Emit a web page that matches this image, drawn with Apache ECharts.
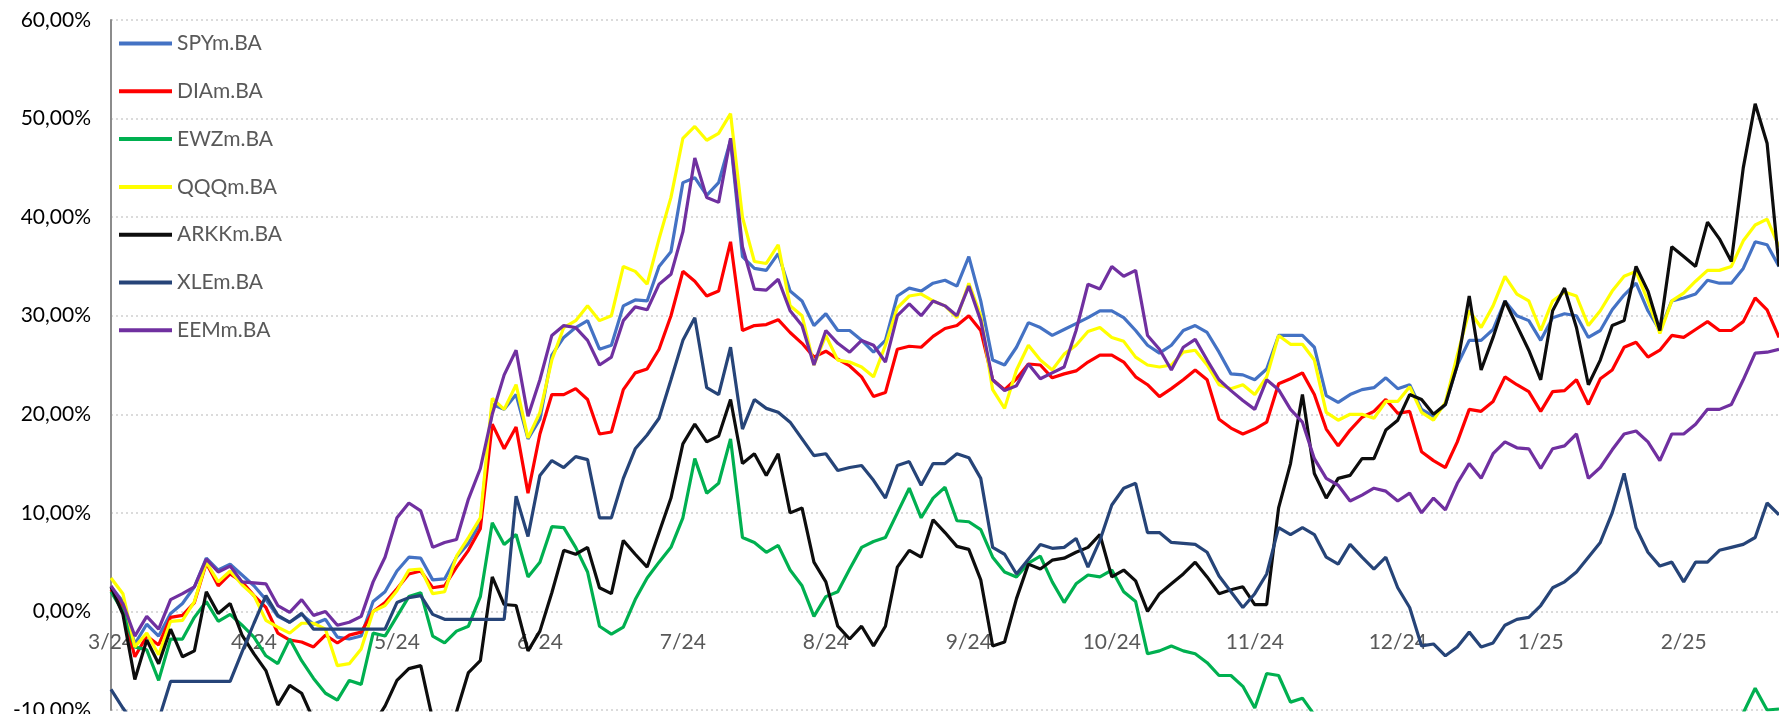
<!DOCTYPE html>
<html>
<head>
<meta charset="utf-8">
<script src="https://cdn.jsdelivr.net/npm/echarts@6/dist/echarts.min.js"></script>
<style>
  html, body { margin: 0; padding: 0; background: #fff; overflow: hidden; }
  #chart { width: 1779px; height: 714px; }
</style>
</head>
<body>
<div id="chart"></div>
<script>
// month labels, one per 12 points on the x axis
const tickLabels = ['3/24', '4/24', '5/24', '6/24', '7/24', '8/24', '9/24', '10/24', '11/24', '12/24', '1/25', '2/25'];
const POINTS_PER_MONTH = 12;

// cumulative return, % (one row per month)
const spy = [
  2.5, 1.0, -3.3, -1.3, -2.5, -0.2, 0.8, 2.5, 5.4, 4.2, 4.8, 3.7,
  2.6, 1.2, -0.5, -1.1, -0.3, -1.3, -0.8, -2.6, -2.8, -2.5, 1.0, 2.0,
  4.1, 5.5, 5.4, 3.2, 3.3, 5.5, 6.9, 9.0, 21.0, 20.5, 22.0, 17.5,
  19.5, 26.0, 27.8, 28.8, 29.5, 26.6, 27.0, 31.0, 31.6, 31.5, 35.0, 36.5,
  43.5, 44.0, 42.2, 43.5, 47.8, 36.0, 34.8, 34.6, 36.3, 32.5, 31.5, 29.0,
  30.2, 28.5, 28.5, 27.5, 26.3, 27.5, 32.0, 32.8, 32.5, 33.3, 33.6, 33.0,
  36.0, 31.5, 25.5, 25.0, 26.8, 29.3, 28.8, 28.0, 28.6, 29.2, 29.8, 30.5,
  30.5, 29.8, 28.5, 27.0, 26.2, 27.0, 28.5, 29.0, 28.3, 26.3, 24.1, 24.0,
  23.5, 24.6, 28.0, 28.0, 28.0, 26.8, 21.9, 21.2, 22.0, 22.5, 22.7, 23.7,
  22.6, 23.0, 20.5, 19.8, 21.0, 25.0, 27.5, 27.5, 28.6, 31.5, 30.0, 29.5,
  27.5, 29.8, 30.2, 30.0, 27.8, 28.5, 30.6, 32.1, 33.3, 30.5, 28.5, 31.5,
  31.8, 32.2, 33.6, 33.3, 33.3, 34.8, 37.5, 37.2, 35.0
];

const dia = [
  2.2, 0.3, -4.6, -2.5, -3.4, -0.6, -0.4, 0.9, 4.9, 2.6, 3.8, 3.0,
  1.6, 0.4, -2.2, -2.9, -3.1, -3.6, -2.4, -3.2, -2.4, -2.1, 0.0, 0.9,
  2.3, 3.8, 4.1, 2.4, 2.6, 4.5, 6.2, 8.4, 19.0, 16.5, 18.7, 12.0,
  18.0, 22.0, 22.0, 22.6, 21.5, 18.0, 18.2, 22.5, 24.2, 24.6, 26.6, 30.0,
  34.5, 33.5, 32.0, 32.5, 37.5, 28.5, 29.0, 29.1, 29.6, 28.3, 27.2, 25.8,
  26.4, 25.6, 24.9, 23.8, 21.8, 22.2, 26.6, 26.9, 26.8, 27.9, 28.7, 29.0,
  30.0, 28.5, 23.5, 22.5, 23.6, 25.1, 25.0, 23.7, 24.1, 24.4, 25.3, 26.0,
  26.0, 25.3, 23.8, 23.0, 21.8, 22.6, 23.5, 24.5, 23.5, 19.5, 18.6, 18.0,
  18.5, 19.2, 23.1, 23.6, 24.2, 22.0, 18.5, 16.8, 18.4, 19.7, 20.3, 21.5,
  20.1, 20.3, 16.2, 15.3, 14.6, 17.2, 20.5, 20.3, 21.3, 23.8, 23.0, 22.3,
  20.3, 22.3, 22.4, 23.5, 21.0, 23.6, 24.5, 26.8, 27.3, 25.8, 26.5, 28.0,
  27.8, 28.6, 29.4, 28.5, 28.5, 29.4, 31.8, 30.6, 27.8
];

const ewz = [
  2.0, 0.0, -3.6, -3.9, -7.0, -2.8, -2.8, -0.6, 1.0, -1.0, -0.3, -1.4,
  -2.6, -4.5, -5.3, -2.8, -5.0, -6.8, -8.3, -9.0, -7.0, -7.4, -2.2, -2.5,
  -0.5, 1.5, 1.9, -2.5, -3.2, -2.0, -1.5, 1.5, 9.0, 6.8, 7.8, 3.5,
  5.0, 8.6, 8.5, 6.5, 4.0, -1.5, -2.3, -1.6, 1.2, 3.4, 5.0, 6.5,
  9.5, 15.5, 12.0, 13.0, 17.5, 7.5, 7.0, 6.0, 6.7, 4.2, 2.6, -0.5,
  1.5, 2.0, 4.3, 6.5, 7.1, 7.5, 10.0, 12.5, 9.5, 11.5, 12.6, 9.2,
  9.1, 8.3, 5.5, 4.0, 3.5, 4.9, 5.6, 3.0, 0.9, 2.8, 3.7, 3.5,
  4.2, 2.0, 1.0, -4.3, -4.0, -3.5, -4.0, -4.3, -5.2, -6.5, -6.5, -7.6,
  -9.8, -6.3, -6.5, -9.2, -8.8, -10.5, -11.5, -12.0, -12.5, -12.0, -13.0, -13.5,
  -14.0, -13.0, -14.5, -15.0, -14.0, -15.5, -16.0, -15.0, -14.5, -15.5, -14.0, -13.5,
  -14.5, -15.0, -14.0, -13.5, -14.0, -13.0, -13.5, -12.5, -13.0, -12.0, -12.5, -11.5,
  -12.0, -11.5, -12.0, -11.0, -11.0, -10.3, -7.8, -10.0, -9.9
];

const qqq = [
  3.4, 1.8, -3.6, -2.2, -4.4, -1.0, -0.9, 1.0, 5.0, 3.0, 4.1, 2.7,
  1.6, -0.9, -1.6, -2.2, -1.2, -1.2, -1.8, -5.5, -5.3, -3.8, 0.0, 0.6,
  2.1, 4.2, 4.3, 1.8, 2.0, 5.6, 7.5, 9.5, 21.6, 20.5, 23.0, 17.6,
  20.2, 25.5, 28.8, 29.5, 31.0, 29.5, 30.0, 35.0, 34.5, 33.2, 37.8, 42.0,
  48.0, 49.2, 47.8, 48.5, 50.5, 40.0, 35.5, 35.3, 37.2, 31.0, 30.0, 25.0,
  28.0, 25.5, 25.3, 24.8, 23.8, 27.0, 30.8, 32.0, 32.2, 31.5, 31.0, 29.8,
  33.3, 30.0, 22.5, 20.6, 24.5, 27.0, 25.5, 24.5, 26.1, 27.0, 28.4, 28.8,
  27.8, 27.4, 25.8, 25.0, 24.8, 25.0, 26.3, 26.5, 25.0, 23.0, 22.6, 23.0,
  22.0, 23.8, 28.0, 27.1, 27.1, 25.5, 20.2, 19.4, 20.0, 20.0, 19.6, 21.3,
  21.3, 22.8, 20.2, 19.4, 21.2, 26.0, 30.5, 28.8, 31.0, 34.0, 32.2, 31.5,
  28.5, 31.5, 32.4, 32.0, 29.0, 30.5, 32.5, 34.0, 34.5, 31.5, 28.2, 31.5,
  32.3, 33.5, 34.6, 34.6, 35.0, 37.6, 39.2, 39.8, 37.0
];

const arkk = [
  2.5, -0.3, -6.9, -2.9, -5.3, -1.8, -4.6, -4.0, 2.0, -0.2, 0.8, -2.4,
  -4.3, -6.0, -9.5, -7.5, -8.3, -11.0, -13.0, -14.0, -13.5, -12.5, -11.5, -9.6,
  -7.0, -5.8, -5.5, -11.0, -13.0, -10.2, -6.2, -5.0, 3.5, 0.7, 0.6, -4.0,
  -2.0, 1.9, 6.2, 5.8, 6.5, 2.4, 1.8, 7.2, 5.8, 4.5, 8.0, 11.5,
  17.0, 19.0, 17.2, 17.8, 21.5, 15.0, 16.0, 13.8, 16.0, 10.0, 10.5, 5.0,
  3.0, -1.5, -2.8, -1.5, -3.5, -1.5, 4.5, 6.2, 5.5, 9.3, 8.0, 6.6,
  6.3, 3.2, -3.5, -3.1, 1.3, 4.8, 4.3, 5.2, 5.4, 6.0, 6.5, 7.8,
  3.5, 4.2, 3.1, 0.0, 1.8, 2.8, 3.8, 5.0, 3.5, 1.8, 2.2, 2.5,
  0.7, 0.7, 10.5, 15.0, 22.0, 14.0, 11.5, 13.5, 13.8, 15.5, 15.5, 18.4,
  19.4, 22.0, 21.5, 20.0, 21.0, 25.0, 32.0, 24.5, 27.8, 31.5, 29.0, 26.5,
  23.5, 30.5, 32.8, 28.8, 23.0, 25.5, 29.0, 29.5, 35.0, 32.5, 28.5, 37.0,
  36.0, 35.0, 39.5, 37.8, 35.5, 45.0, 51.5, 47.5, 35.0
];

const xle = [
  -7.9, -9.8, -11.5, -12.5, -11.0, -7.1, -7.1, -7.1, -7.1, -7.1, -7.1, -4.1,
  -1.2, 1.6, -0.4, -1.1, -0.2, -1.8, -1.8, -1.8, -1.8, -1.8, -1.8, -1.8,
  0.9, 1.4, 1.6, -0.3, -0.8, -0.8, -0.8, -0.8, -0.8, -0.8, 11.7, 7.6,
  13.8, 15.3, 14.6, 15.7, 15.4, 9.5, 9.5, 13.5, 16.5, 17.9, 19.6, 23.5,
  27.5, 29.8, 22.7, 22.0, 26.8, 18.5, 21.5, 20.6, 20.2, 19.2, 17.5, 15.8,
  16.0, 14.3, 14.6, 14.8, 13.3, 11.5, 14.8, 15.2, 12.8, 15.0, 15.0, 16.0,
  15.6, 13.5, 6.5, 5.8, 3.8, 5.3, 6.8, 6.4, 6.5, 7.4, 4.5, 7.2,
  10.8, 12.5, 13.0, 8.0, 8.0, 7.0, 6.9, 6.8, 6.0, 3.6, 2.0, 0.4,
  1.8, 3.8, 8.5, 7.8, 8.5, 7.8, 5.5, 4.8, 6.8, 5.5, 4.3, 5.5,
  2.4, 0.4, -3.5, -3.3, -4.5, -3.6, -2.1, -3.6, -3.2, -1.4, -0.8, -0.6,
  0.6, 2.4, 3.0, 4.0, 5.5, 7.0, 10.0, 14.0, 8.5, 6.0, 4.6, 5.0,
  3.0, 5.0, 5.0, 6.2, 6.5, 6.8, 7.5, 11.0, 9.8
];

const eem = [
  2.6, 0.8, -2.5, -0.5, -1.8, 1.2, 1.8, 2.5, 5.3, 4.0, 4.6, 3.0,
  2.9, 2.8, 0.6, -0.1, 1.2, -0.4, 0.0, -1.4, -1.1, -0.5, 3.0, 5.5,
  9.5, 11.0, 10.2, 6.5, 7.0, 7.3, 11.4, 14.5, 20.0, 24.0, 26.5, 19.8,
  23.5, 28.0, 29.0, 28.8, 27.5, 25.0, 25.8, 29.5, 30.9, 30.6, 33.2, 34.2,
  38.5, 46.0, 42.0, 41.5, 48.0, 37.0, 32.7, 32.6, 33.7, 30.5, 29.0, 25.0,
  28.5, 27.2, 26.3, 27.5, 27.0, 25.3, 30.0, 31.2, 30.0, 31.5, 31.0, 30.0,
  33.0, 29.5, 23.5, 22.4, 22.9, 25.1, 23.6, 24.2, 24.8, 28.5, 33.2, 32.7,
  35.0, 34.0, 34.6, 28.0, 26.6, 24.5, 26.8, 27.6, 25.5, 23.5, 22.4, 21.4,
  20.5, 23.5, 22.5, 20.5, 19.2, 15.5, 13.5, 12.8, 11.2, 11.8, 12.5, 12.2,
  11.2, 12.0, 10.0, 11.5, 10.3, 13.0, 15.0, 13.5, 16.0, 17.2, 16.6, 16.5,
  14.5, 16.5, 16.8, 18.0, 13.5, 14.6, 16.4, 18.0, 18.3, 17.2, 15.3, 18.0,
  18.0, 19.0, 20.5, 20.5, 21.0, 23.5, 26.2, 26.3, 26.6
];

const seriesNames = ['SPYm.BA', 'DIAm.BA', 'EWZm.BA', 'QQQm.BA', 'ARKKm.BA', 'XLEm.BA', 'EEMm.BA'];
const seriesColors = ['#4472C4', '#FF0000', '#00B050', '#FFFF00', '#0D0D0D', '#264478', '#7030A0'];
const seriesValues = [spy, dia, ewz, qqq, arkk, xle, eem];

// one category per point; the axis shows the month label every 12 points
const categories = spy.map((_, i) => String(i));

const FONT = 'Lato, "Liberation Sans", sans-serif';

const chart = echarts.init(document.getElementById('chart'), null, { renderer: 'canvas' });

const option = {
    animation: false,
    backgroundColor: '#ffffff',
    grid: { left: 111, right: 0, top: 20, bottom: 4, containLabel: false, outerBoundsMode: 'none' },
    legend: {
        orient: 'vertical',
        left: 114,
        top: 28,
        icon: 'rect',
        itemWidth: 53,
        itemHeight: 4,
        itemGap: 26.8,
        textStyle: { fontFamily: FONT, fontSize: 21, color: '#595959', lineHeight: 20 },
        data: seriesNames
    },
    xAxis: {
        type: 'category',
        position: 'bottom',
        data: categories,
        boundaryGap: false,
        axisLine: { show: false, onZero: false },
        axisTick: { show: false },
        splitLine: { show: false },
        axisLabel: {
            show: true,
            inside: true,
            interval: POINTS_PER_MONTH - 1,
            margin: 58,
            fontFamily: FONT,
            fontSize: 21,
            lineHeight: 20,
            color: '#595959',
            formatter: (value, idx) => tickLabels[Math.round(idx / POINTS_PER_MONTH)] || ''
        }
    },
    yAxis: {
        type: 'value',
        min: -10,
        max: 60,
        interval: 10,
        axisLine: { show: true, lineStyle: { color: '#8c8c8c', width: 2 } },
        axisTick: { show: false },
        splitLine: { show: true, lineStyle: { color: '#d0d0d0', type: [2, 3], width: 1.5 } },
        axisLabel: {
            margin: 20,
            fontFamily: FONT,
            fontSize: 21,
            color: '#000000',
            formatter: v => v.toFixed(2).replace('.', ',') + '%'
        }
    },
    series: seriesNames.map((name, k) => ({
        name: name,
        type: 'line',
        data: seriesValues[k],
        showSymbol: false,
        symbol: 'none',
        clip: true,
        color: seriesColors[k],
        lineStyle: { width: 3.2, color: seriesColors[k] }
    }))
};

chart.setOption(option);
</script>
</body>
</html>
